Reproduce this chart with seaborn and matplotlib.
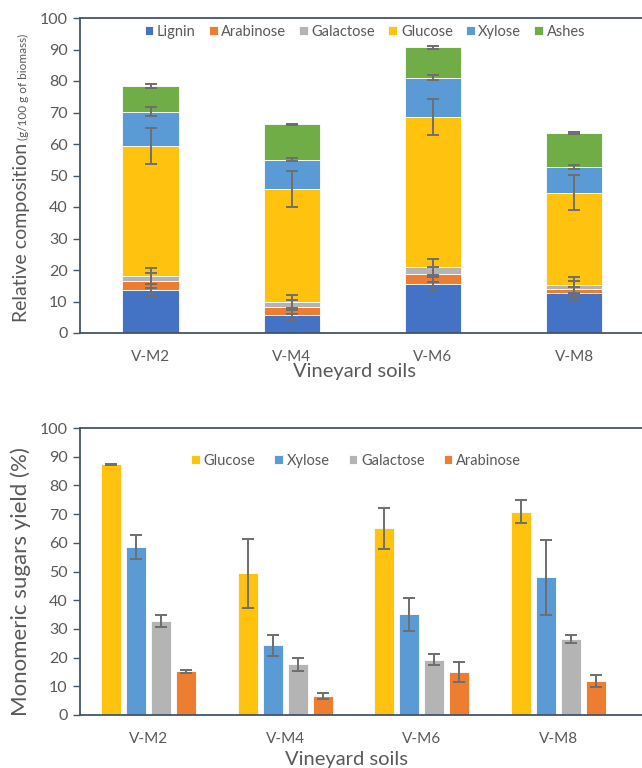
import numpy as np
import pandas as pd
import seaborn as sns
import matplotlib.pyplot as plt

#%% data
soils = ["V-M2", "V-M4", "V-M6", "V-M8"]

# top: relative composition (g/100 g of biomass), stacked
comp_names = ["Lignin", "Arabinose", "Galactose", "Glucose", "Xylose", "Ashes"]
lignin = [13.7, 5.8, 15.7, 12.6]
arabinose = [2.9, 2.4, 3.0, 1.5]
galactose = [1.5, 1.6, 2.3, 1.2]
glucose = [41.4, 36.0, 47.5, 29.3]
xylose = [10.8, 9.2, 12.6, 8.1]
ashes = [8.2, 11.2, 9.6, 10.8]
lignin_err = [2.0, 2.0, 2.1, 2.0]
arabinose_err = [2.3, 2.3, 2.4, 2.3]
galactose_err = [2.4, 2.4, 2.5, 2.6]
glucose_err = [5.7, 5.7, 5.7, 5.7]
xylose_err = [1.3, 0.5, 0.9, 0.7]
ashes_err = [0.6, 0.3, 0.5, 0.4]

# bottom: monomeric sugars yield (%)
sugar_names = ["Glucose", "Xylose", "Galactose", "Arabinose"]
glucose_yield = [87.3, 49.4, 65.1, 70.8]
xylose_yield = [58.6, 24.3, 35.1, 48.0]
galactose_yield = [32.9, 17.7, 19.2, 26.5]
arabinose_yield = [15.2, 6.5, 14.9, 11.9]
glucose_yield_err = [0.2, 12.0, 7.1, 4.0]
xylose_yield_err = [4.2, 3.7, 5.8, 13.0]
galactose_yield_err = [2.1, 2.3, 1.9, 1.5]
arabinose_yield_err = [0.5, 1.0, 3.5, 2.0]

colors = {"Lignin": "#4472C4", "Arabinose": "#ED7D31", "Galactose": "#B4B4B4",
          "Glucose": "#FFC20E", "Xylose": "#5B9BD5", "Ashes": "#70AD47"}

#%% style
sns.set_theme(style="white")
plt.rcParams['font.family'] = ['Lato', 'DejaVu Sans']
grey = "#595959"
spine_c = "#44546A"
err_c = "#6E6E6E"

fig = plt.figure(figsize=(6.42, 7.68), dpi=100)
ax1 = fig.add_axes([80/642, 435/768, 562/642, 315/768])
ax2 = fig.add_axes([80/642, 53/768, 562/642, 287/768])


def style_axes(ax, xmax):
    ax.set_ylim(0, 100)
    ax.set_xlim(-0.5, xmax)
    ax.set_yticks(range(0, 101, 10))
    for s in ["left", "top", "bottom"]:
        ax.spines[s].set_color(spine_c)
        ax.spines[s].set_linewidth(1.3)
    ax.spines["right"].set_visible(False)
    ax.tick_params(axis="y", left=True, length=5, width=1, color=spine_c,
                   labelsize=11.5, labelcolor=grey, pad=4)
    ax.tick_params(axis="x", bottom=False, labelsize=11, labelcolor=grey, pad=6)
    ax.set_xlabel("")
    ax.set_ylabel("")


#%% top chart - stacked bars
comp_vals = [lignin, arabinose, galactose, glucose, xylose, ashes]
comp_errs = [lignin_err, arabinose_err, galactose_err, glucose_err, xylose_err, ashes_err]
cum = np.zeros(len(soils))
for name, vals, errs in zip(comp_names, comp_vals, comp_errs):
    sns.barplot(x=soils, y=vals, bottom=cum, color=colors[name], width=0.4,
                saturation=1, edgecolor="white", linewidth=0.6, label=name, ax=ax1)
    cum = cum + np.array(vals)
    ax1.errorbar(np.arange(len(soils)), cum, yerr=errs, fmt="none", ecolor=err_c,
                 elinewidth=1.4, capsize=4, capthick=1.4, zorder=5)

style_axes(ax1, 3.48)
ax1.legend(loc="center", bbox_to_anchor=(0.507, 1 - 14/315), ncol=6, frameon=False,
           fontsize=10.5, labelcolor=grey, handlelength=0.6, handleheight=0.6,
           handletextpad=0.25, columnspacing=0.9, borderaxespad=0)
ax1.set_xlabel("Vineyard soils", fontsize=14.5, color=grey)
ax1.xaxis.set_label_coords(0.488, -39/315)
ax1.xaxis.label.set_va("center")

#%% bottom chart - grouped bars
df = pd.DataFrame({
    "soil": soils * 4,
    "sugar": np.repeat(sugar_names, len(soils)),
    "value": glucose_yield + xylose_yield + galactose_yield + arabinose_yield,
})
yield_errs = [glucose_yield_err, xylose_yield_err, galactose_yield_err, arabinose_yield_err]

sns.barplot(data=df, x="soil", y="value", hue="sugar", hue_order=sugar_names,
            palette=[colors[s] for s in sugar_names], saturation=1, width=0.73, gap=0.2,
            edgecolor="white", linewidth=0.6, errorbar=None, ax=ax2)
for cont, errs in zip(ax2.containers, yield_errs):
    xs = [p.get_x() + p.get_width() / 2 for p in cont.patches]
    ys = [p.get_height() for p in cont.patches]
    ax2.errorbar(xs, ys, yerr=errs, fmt="none", ecolor=err_c,
                 elinewidth=1.4, capsize=4, capthick=1.4, zorder=5)

style_axes(ax2, 3.61)
ax2.legend(loc="center", bbox_to_anchor=(0.491, 1 - 33/287), ncol=4, frameon=False,
           fontsize=10.5, labelcolor=grey, handlelength=0.6, handleheight=0.6,
           handletextpad=0.25, columnspacing=1.3, borderaxespad=0, title=None)
ax2.set_xlabel("Vineyard soils", fontsize=14.5, color=grey)
ax2.xaxis.set_label_coords(0.475, -44/287)
ax2.xaxis.label.set_va("center")

#%% y labels (mixed font sizes on the top one)
t1 = fig.text(27/642, 1 - 322/768, "Relative composition", rotation=90,
              rotation_mode="anchor", ha="left", va="baseline", fontsize=14, color=grey)
fig.canvas.draw()
bb = t1.get_window_extent().transformed(fig.transFigure.inverted())
fig.text(27/642, bb.y1 + 0.004, "(g/100 g of biomass)", rotation=90,
         rotation_mode="anchor", ha="left", va="baseline", fontsize=8.5, color=grey)
fig.text(27/642, 1 - 582/768, "Monomeric sugars yield (%)", rotation=90,
         rotation_mode="anchor", ha="center", va="baseline", fontsize=16, color=grey)

fig.savefig("out.png", dpi=100)
